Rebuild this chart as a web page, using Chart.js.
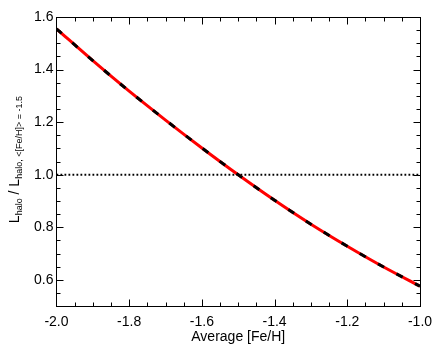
<!DOCTYPE html>
<html><head><meta charset="utf-8">
<script src="https://cdn.jsdelivr.net/npm/chart.js@4/dist/chart.umd.min.js"></script>
<style>html,body{margin:0;padding:0;background:#fff}#wrap{width:436px;height:349px}</style>
</head><body><div id="wrap"><canvas id="c" width="436" height="349"></canvas></div>
<script>
// ---- data ----
const feH = [-2.0, -1.9, -1.8, -1.7, -1.6, -1.5, -1.4, -1.3, -1.2, -1.1, -1.0];
const luminosityRatio = [1.555, 1.434, 1.318, 1.208, 1.102, 1.000, 0.903, 0.812, 0.728, 0.649, 0.576];
const referenceX = [-2.0, -1.0];
const referenceLevel = [1.0, 1.0];
const xTickValues = [-2.0, -1.8, -1.6, -1.4, -1.2, -1.0];
const yTickValues = [0.6, 0.8, 1.0, 1.2, 1.4, 1.6];
const xRange = [-2.0, -1.0];
const yRange = [0.5, 1.6];
const minorStep = 0.05;
const xTitle = 'Average [Fe/H]';

const curve = feH.map((x, i) => ({x, y: luminosityRatio[i]}));
const refLine = referenceX.map((x, i) => ({x, y: referenceLevel[i]}));

Chart.defaults.font.family = "'Liberation Sans', Arial, Helvetica, sans-serif";
Chart.defaults.color = '#000';

const framePlugin = {
  id: 'framePlugin',
  afterDraw(chart) {
    const {ctx, chartArea: a, scales} = chart;
    const L = Math.round(a.left) + 0.5, R = Math.round(a.right) + 0.5;
    const T = Math.round(a.top) + 0.5, B = Math.round(a.bottom) + 0.5;
    ctx.save();
    ctx.strokeStyle = '#000';
    ctx.lineWidth = 1;
    ctx.strokeRect(L, T, R - L, B - T);
    const isMajor = (v, arr) => arr.some(t => Math.abs(t - v) < 1e-6);
    ctx.beginPath();
    const xs = scales.x;
    const nx = Math.round((xRange[1] - xRange[0]) / minorStep);
    for (let i = 0; i <= nx; i++) {
      const v = xRange[0] + i * minorStep;
      const len = isMajor(v, xTickValues) ? 7 : 4;
      const px = Math.round(xs.getPixelForValue(v)) + 0.5;
      ctx.moveTo(px, B); ctx.lineTo(px, B - len);
      ctx.moveTo(px, T); ctx.lineTo(px, T + len);
    }
    const ys = scales.y;
    const ny = Math.round((yRange[1] - yRange[0]) / minorStep);
    for (let i = 0; i <= ny; i++) {
      const v = yRange[0] + i * minorStep;
      const len = isMajor(v, yTickValues) ? 7 : 4;
      const py = Math.round(ys.getPixelForValue(v)) + 0.5;
      ctx.moveTo(L, py); ctx.lineTo(L + len, py);
      ctx.moveTo(R, py); ctx.lineTo(R - len, py);
    }
    ctx.stroke();

    const fam = Chart.defaults.font.family;
    ctx.fillStyle = '#000';
    // x-axis title
    ctx.font = '14px ' + fam;
    ctx.textAlign = 'center';
    ctx.textBaseline = 'middle';
    ctx.fillText(xTitle, (a.left + a.right) / 2, 337);

    // y-axis title with subscripts
    const parts = [
      {t: 'L', s: 14, dy: 0},
      {t: 'halo', s: 9, dy: 3},
      {t: ' / L', s: 14, dy: 0},
      {t: 'halo, <[Fe/H]> = -1.5', s: 9, dy: 3}
    ];
    let total = 0;
    parts.forEach(p => { ctx.font = p.s + 'px ' + fam; p.w = ctx.measureText(p.t).width; total += p.w; });
    const cy = (a.top + a.bottom) / 2 - 2;
    ctx.translate(19, cy);
    ctx.rotate(-Math.PI / 2);
    ctx.textBaseline = 'alphabetic';
    ctx.textAlign = 'left';
    let x = -total / 2;
    parts.forEach(p => { ctx.font = p.s + 'px ' + fam; ctx.fillText(p.t, x, p.dy); x += p.w; });
    ctx.restore();
  }
};

new Chart(document.getElementById('c'), {
  type: 'line',
  data: {
    datasets: [
      {data: curve, borderColor: '#000', borderWidth: 3, borderDash: [7, 14], pointRadius: 0,
       cubicInterpolationMode: 'monotone', fill: false, order: 0},
      {data: curve, borderColor: '#ff0000', borderWidth: 3, pointRadius: 0,
       cubicInterpolationMode: 'monotone', fill: false, order: 1},
      {data: refLine, borderColor: '#000', borderWidth: 1.8, borderDash: [1.8, 2.2], pointRadius: 0,
       fill: false, order: 2}
    ]
  },
  options: {
    responsive: false,
    animation: false,
    devicePixelRatio: 1,
    layout: {padding: {left: 31, right: 16, top: 17, bottom: 10}},
    plugins: {legend: {display: false}, tooltip: {enabled: false}},
    scales: {
      x: {
        type: 'linear', min: xRange[0], max: xRange[1],
        afterBuildTicks: s => { s.ticks = xTickValues.map(v => ({value: v})); },
        afterFit: s => { s.paddingRight = 0; s.paddingLeft = 0; },
        ticks: {callback: v => v.toFixed(1), font: {size: 14}, padding: 8, maxRotation: 0, autoSkip: false},
        grid: {display: false, drawTicks: false},
        border: {display: false},
        title: {display: false}
      },
      y: {
        type: 'linear', min: yRange[0], max: yRange[1],
        afterBuildTicks: s => { s.ticks = yTickValues.map(v => ({value: v})); },
        afterFit: s => { s.paddingTop = 0; s.paddingBottom = 0; },
        ticks: {callback: v => v.toFixed(1), font: {size: 14}, padding: 3, autoSkip: false},
        grid: {display: false, drawTicks: false},
        border: {display: false}
      }
    }
  },
  plugins: [framePlugin]
});
</script></body></html>
